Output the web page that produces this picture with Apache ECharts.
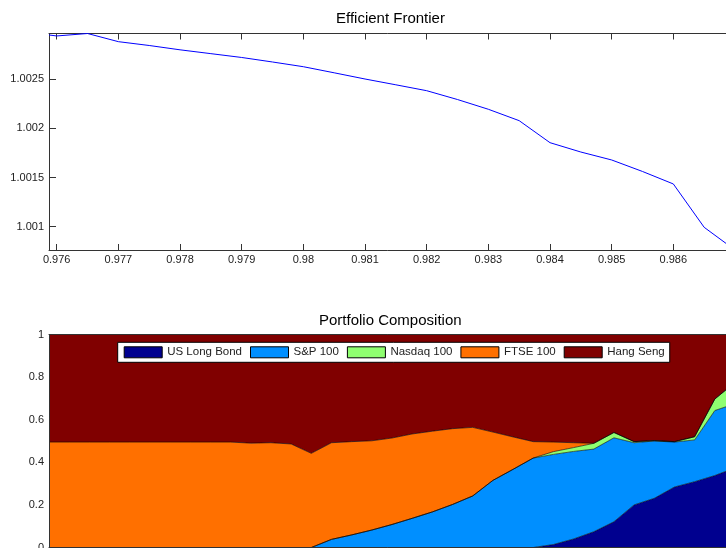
<!DOCTYPE html>
<html>
<head>
<meta charset="utf-8">
<script src="https://cdn.jsdelivr.net/npm/echarts@6/dist/echarts.min.js"></script>
<style>
html,body{margin:0;padding:0;background:#fff;}
#chart{width:726px;height:548px;}
</style>
</head>
<body>
<div id="chart"></div>
<script>
// ---- Efficient frontier ----
const frontierX = [0.975875, 0.976, 0.9765, 0.977, 0.9775, 0.978, 0.9785, 0.979, 0.9795, 0.98, 0.9805, 0.981, 0.9815, 0.982, 0.9825, 0.983, 0.9835, 0.984, 0.9845, 0.985, 0.9855, 0.986, 0.9865, 0.987];
const frontierY = [1.002951, 1.002941, 1.002966, 1.002883, 1.002844, 1.0028, 1.002761, 1.002722, 1.002676, 1.002628, 1.002566, 1.002503, 1.002444, 1.002384, 1.002294, 1.002195, 1.002079, 1.001855, 1.00176, 1.001679, 1.001562, 1.001435, 1.000994, 1.000763];
const frontierXTicks = [0.976, 0.977, 0.978, 0.979, 0.98, 0.981, 0.982, 0.983, 0.984, 0.985, 0.986];
const frontierYTicks = [1.001, 1.0015, 1.002, 1.0025];

// ---- Portfolio composition ----
const portfolios = ['1','2','3','4','5','6','7','8','9','10','11','12','13','14','15','16','17','18','19','20','21','22','23','24','25','26','27','28','29','30','31','32','33','34','35'];
const usLongBond = [0,0,0,0,0,0,0,0,0,0,0,0,0,0,0,0,0,0,0,0,0,0,0,0,0,0.014,0.04,0.074,0.121,0.2,0.231,0.284,0.309,0.338,0.374];
const sp100 = [0,0,0,0,0,0,0,0,0,0,0,0,0,0,0.038,0.059,0.082,0.108,0.137,0.167,0.202,0.242,0.315,0.367,0.42,0.423,0.411,0.388,0.394,0.292,0.269,0.211,0.196,0.305,0.301];
const nasdaq100 = [0,0,0,0,0,0,0,0,0,0,0,0,0,0,0,0,0,0,0,0,0,0,0,0,0,0.013,0.018,0.027,0.025,0.005,0.002,0.002,0.015,0.054,0.1];
const ftse100 = [0.495,0.495,0.495,0.495,0.495,0.495,0.495,0.495,0.495,0.495,0.49,0.492,0.486,0.442,0.454,0.438,0.419,0.406,0.396,0.379,0.356,0.322,0.227,0.152,0.077,0.045,0.023,0,0,0,0,0,0,0,0];
const hangSeng = [0.505,0.505,0.505,0.505,0.505,0.505,0.505,0.505,0.505,0.505,0.51,0.508,0.514,0.558,0.508,0.503,0.499,0.486,0.467,0.454,0.442,0.436,0.458,0.481,0.503,0.505,0.508,0.511,0.46,0.503,0.498,0.503,0.48,0.303,0.225];
const weightTicks = [0, 0.2, 0.4, 0.6, 0.8, 1];
const assetNames = ['US Long Bond', 'S&P 100', 'Nasdaq 100', 'FTSE 100', 'Hang Seng'];
const assetColors = ['#00008F', '#008FFF', '#8FFF70', '#FF7000', '#800000'];

const FONT = 'Liberation Sans, Arial, sans-serif';
const axisColor = '#333';
const textColor = '#222';

const chart = echarts.init(document.getElementById('chart'), null, {renderer: 'canvas'});

const assetData = [usLongBond, sp100, nasdaq100, ftse100, hangSeng];
const areaSeries = assetNames.map((name, i) => ({
  name: name,
  type: 'line',
  xAxisIndex: 2,
  yAxisIndex: 1,
  stack: 'weights',
  data: assetData[i],
  symbol: 'none',
  showSymbol: false,
  smooth: false,
  itemStyle: {color: assetColors[i]},
  lineStyle: {color: '#000', width: 0.6},
  areaStyle: {color: assetColors[i], opacity: 1},
  emphasis: {disabled: true},
  z: 2
}));

const option = {
  animation: false,
  textStyle: {fontFamily: FONT},
  title: [
    {text: 'Efficient Frontier', left: 336, top: 11, padding: 0,
     textStyle: {fontSize: 15, fontWeight: 'normal', color: '#000', fontFamily: FONT}},
    {text: 'Portfolio Composition', left: 319, top: 313, padding: 0,
     textStyle: {fontSize: 15, fontWeight: 'normal', color: '#000', fontFamily: FONT}}
  ],
  legend: {
    data: assetNames,
    left: 117.7,
    top: 342.3,
    orient: 'horizontal',
    icon: 'rect',
    itemWidth: 38,
    itemHeight: 11,
    itemGap: 8,
    padding: [4, 5, 4, 6],
    backgroundColor: '#fff',
    borderColor: '#000',
    borderWidth: 1,
    borderRadius: 0,
    selectedMode: false,
    itemStyle: {borderColor: '#000', borderWidth: 1},
    textStyle: {fontSize: 11.5, color: textColor, fontFamily: FONT, padding: [0, 0, 0, 0]},
    z: 10
  },
  grid: [
    {left: 49, top: 33.5, right: -9, bottom: 298, containLabel: false, outerBoundsMode: 'none'},
    {left: 49, top: 334.5, right: -9, bottom: 0.5, containLabel: false, outerBoundsMode: 'none'}
  ],
  xAxis: [
    {
      gridIndex: 0, type: 'value', position: 'bottom',
      min: 0.975875, max: 0.987,
      axisLine: {show: true, onZero: false, lineStyle: {color: axisColor, width: 1}},
      axisTick: {show: true, inside: true, length: 6, customValues: frontierXTicks, lineStyle: {color: axisColor}},
      axisLabel: {show: true, customValues: frontierXTicks, margin: 4, fontSize: 11, color: textColor, fontFamily: FONT,
        formatter: v => String(+(+v).toFixed(3))},
      splitLine: {show: false}
    },
    {
      gridIndex: 0, type: 'value', position: 'top',
      min: 0.975875, max: 0.987,
      axisLine: {show: true, onZero: false, lineStyle: {color: axisColor, width: 1}},
      axisTick: {show: true, inside: true, length: 6, customValues: frontierXTicks, lineStyle: {color: axisColor}},
      axisLabel: {show: false},
      splitLine: {show: false}
    },
    {
      gridIndex: 1, type: 'category', position: 'bottom', data: portfolios, boundaryGap: false,
      axisLine: {show: true, onZero: false, lineStyle: {color: axisColor, width: 1}},
      axisTick: {show: false},
      axisLabel: {show: false},
      splitLine: {show: false},
      z: 5
    },
    {
      gridIndex: 1, type: 'category', position: 'top', data: portfolios, boundaryGap: false,
      axisLine: {show: true, onZero: false, lineStyle: {color: axisColor, width: 1}},
      axisTick: {show: false},
      axisLabel: {show: false},
      splitLine: {show: false},
      z: 5
    }
  ],
  yAxis: [
    {
      gridIndex: 0, type: 'value', position: 'left',
      min: 1.000763, max: 1.002966,
      axisLine: {show: true, onZero: false, lineStyle: {color: axisColor, width: 1}},
      axisTick: {show: true, inside: true, length: 7, customValues: frontierYTicks, lineStyle: {color: axisColor}},
      axisLabel: {show: true, customValues: frontierYTicks, margin: 5, fontSize: 11, color: textColor, fontFamily: FONT,
        formatter: v => String(+(+v).toFixed(4))},
      splitLine: {show: false}
    },
    {
      gridIndex: 1, type: 'value', position: 'left',
      min: 0, max: 1,
      axisLine: {show: true, onZero: false, lineStyle: {color: axisColor, width: 1}},
      axisTick: {show: false},
      axisLabel: {show: true, customValues: weightTicks, margin: 5, fontSize: 11, color: textColor, fontFamily: FONT,
        formatter: v => String(+(+v).toFixed(1))},
      splitLine: {show: false},
      z: 5
    }
  ],
  series: [
    {
      name: 'Efficient Frontier',
      type: 'line',
      xAxisIndex: 0,
      yAxisIndex: 0,
      data: frontierX.map((x, i) => [x, frontierY[i]]),
      symbol: 'none',
      showSymbol: false,
      lineStyle: {color: '#0000FF', width: 1},
      itemStyle: {color: '#0000FF'},
      clip: true,
      emphasis: {disabled: true}
    }
  ].concat(areaSeries)
};

chart.setOption(option);
</script>
</body>
</html>
